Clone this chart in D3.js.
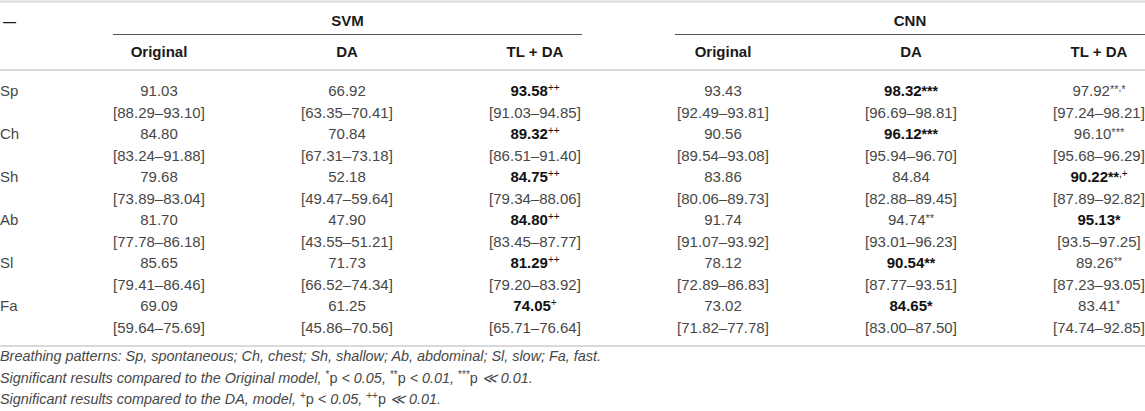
<!DOCTYPE html>
<html>
<head>
<meta charset="utf-8">
<script src="https://cdn.jsdelivr.net/npm/d3@7"></script>
<style>
  body { margin: 0; background: #fff; }
  svg { display: block; font-family: "Liberation Sans", Arial, sans-serif; }
</style>
</head>
<body>
<div id="chart-container"></div>
<script>
// --- data, as printed in the table ---
const rowLabels = ["Sp", "Ch", "Sh", "Ab", "Sl", "Fa"];
const models = ["SVM", "CNN"];
const methods = ["Original", "DA", "TL + DA"];

const svmOrig = [91.03, 84.80, 79.68, 81.70, 85.65, 69.09];
const svmOrigCI = [["88.29", "93.10"], ["83.24", "91.88"], ["73.89", "83.04"], ["77.78", "86.18"], ["79.41", "86.46"], ["59.64", "75.69"]];
const svmOrigMarks = ["", "", "", "", "", ""];
const svmOrigBold = [0, 0, 0, 0, 0, 0];

const svmDA = [66.92, 70.84, 52.18, 47.90, 71.73, 61.25];
const svmDACI = [["63.35", "70.41"], ["67.31", "73.18"], ["49.47", "59.64"], ["43.55", "51.21"], ["66.52", "74.34"], ["45.86", "70.56"]];
const svmDAMarks = ["", "", "", "", "", ""];
const svmDABold = [0, 0, 0, 0, 0, 0];

const svmTL = [93.58, 89.32, 84.75, 84.80, 81.29, 74.05];
const svmTLCI = [["91.03", "94.85"], ["86.51", "91.40"], ["79.34", "88.06"], ["83.45", "87.77"], ["79.20", "83.92"], ["65.71", "76.64"]];
const svmTLMarks = ["++", "++", "++", "++", "++", "+"];
const svmTLBold = [1, 1, 1, 1, 1, 1];

const cnnOrig = [93.43, 90.56, 83.86, 91.74, 78.12, 73.02];
const cnnOrigCI = [["92.49", "93.81"], ["89.54", "93.08"], ["80.06", "89.73"], ["91.07", "93.92"], ["72.89", "86.83"], ["71.82", "77.78"]];
const cnnOrigMarks = ["", "", "", "", "", ""];
const cnnOrigBold = [0, 0, 0, 0, 0, 0];

const cnnDA = [98.32, 96.12, 84.84, 94.74, 90.54, 84.65];
const cnnDACI = [["96.69", "98.81"], ["95.94", "96.70"], ["82.88", "89.45"], ["93.01", "96.23"], ["87.77", "93.51"], ["83.00", "87.50"]];
const cnnDAMarks = ["***", "***", "", "**", "**", "*"];
const cnnDABold = [1, 1, 0, 0, 1, 1];

const cnnTL = [97.92, 96.10, 90.22, 95.13, 89.26, 83.41];
const cnnTLCI = [["97.24", "98.21"], ["95.68", "96.29"], ["87.89", "92.82"], ["93.5", "97.25"], ["87.23", "93.05"], ["74.74", "92.85"]];
const cnnTLMarks = ["**,*", "***", "**,+", "*", "**", "*"];
const cnnTLBold = [0, 0, 1, 1, 0, 0];

const footnotes = [
  [{ t: "Breathing patterns: Sp, spontaneous; Ch, chest; Sh, shallow; Ab, abdominal; Sl, slow; Fa, fast." }],
  [{ t: "Significant results compared to the Original model, " }, { t: "*", sup: true }, { t: "p", up: true },
   { t: " < 0.05, " }, { t: "**", sup: true }, { t: "p", up: true }, { t: " < 0.01, " },
   { t: "***", sup: true }, { t: "p", up: true }, { t: " \u226A 0.01." }],
  [{ t: "Significant results compared to the DA, model, " }, { t: "+", sup: true }, { t: "p", up: true },
   { t: " < 0.05, " }, { t: "++", sup: true }, { t: "p", up: true }, { t: " \u226A 0.01." }]
];

// --- setup ---
const width = 1145;
const height = 411;
const fs = 15;
const textColor = "#474747";
const ruleColor = "#d9d9d9";

const columns = [
  { model: "SVM", method: "Original", mean: svmOrig, ci: svmOrigCI, marks: svmOrigMarks, bold: svmOrigBold },
  { model: "SVM", method: "DA", mean: svmDA, ci: svmDACI, marks: svmDAMarks, bold: svmDABold },
  { model: "SVM", method: "TL + DA", mean: svmTL, ci: svmTLCI, marks: svmTLMarks, bold: svmTLBold },
  { model: "CNN", method: "Original", mean: cnnOrig, ci: cnnOrigCI, marks: cnnOrigMarks, bold: cnnOrigBold },
  { model: "CNN", method: "DA", mean: cnnDA, ci: cnnDACI, marks: cnnDAMarks, bold: cnnDABold },
  { model: "CNN", method: "TL + DA", mean: cnnTL, ci: cnnTLCI, marks: cnnTLMarks, bold: cnnTLBold }
];
columns.forEach((c) => (c.key = c.model + "|" + c.method));

const svg = d3
  .select("#chart-container")
  .append("svg")
  .attr("width", width)
  .attr("height", height);

// column centres and row positions
const x = d3.scalePoint().domain(columns.map((c) => c.key)).range([159, 1099]);
const y = d3.scalePoint().domain(rowLabels).range([91, 306]);
const lineGap = 21.5;
const halfCol = 46;
const fmt = d3.format(".2f");

// horizontal rules
const rules = [1.5, 70, 346];
svg.selectAll("line.rule")
  .data(rules)
  .enter()
  .append("line")
  .attr("class", "rule")
  .attr("x1", 0)
  .attr("x2", width)
  .attr("y1", (d) => d)
  .attr("y2", (d) => d)
  .style("stroke", ruleColor)
  .style("stroke-width", 2);

// model group headers + underline
const groups = models.map((m) => {
  const keys = columns.filter((c) => c.model === m).map((c) => c.key);
  const x1 = x(keys[0]) - halfCol - (m === "CNN" ? 2 : 0);
  const x2 = m === "CNN" ? width : x(keys[keys.length - 1]) + halfCol + 1;
  return { model: m, x1, x2 };
});

svg.selectAll("line.group")
  .data(groups)
  .enter()
  .append("line")
  .attr("class", "group")
  .attr("x1", (d) => d.x1)
  .attr("x2", (d) => d.x2)
  .attr("y1", 34.5)
  .attr("y2", 34.5)
  .style("stroke", "#555")
  .style("stroke-width", 1);

svg.selectAll("text.group")
  .data(groups)
  .enter()
  .append("text")
  .attr("class", "group")
  .attr("x", (d) => (d.x1 + d.x2) / 2)
  .attr("y", 21)
  .attr("dy", "0.35em")
  .attr("text-anchor", "middle")
  .style("font-size", fs + "px")
  .style("font-weight", "bold")
  .style("fill", "#1a1a1a")
  .text((d) => d.model);

svg.append("text")
  .attr("x", 3)
  .attr("y", 21)
  .attr("dy", "0.35em")
  .style("font-size", "13px")
  .style("font-weight", "bold")
  .style("fill", "#1a1a1a")
  .text("\u2014");

// method headers
svg.selectAll("text.method")
  .data(columns)
  .enter()
  .append("text")
  .attr("class", "method")
  .attr("x", (d) => x(d.key))
  .attr("y", 52)
  .attr("dy", "0.35em")
  .attr("text-anchor", "middle")
  .style("font-size", fs + "px")
  .style("font-weight", "bold")
  .style("fill", "#1a1a1a")
  .text((d) => d.method);

// row labels
svg.selectAll("text.row")
  .data(rowLabels)
  .enter()
  .append("text")
  .attr("class", "row")
  .attr("x", 0)
  .attr("y", (d) => y(d))
  .attr("dy", "0.35em")
  .style("font-size", fs + "px")
  .style("fill", textColor)
  .text((d) => d);

// cells
const cells = [];
columns.forEach((c) => {
  rowLabels.forEach((r, i) => {
    cells.push({ key: c.key, row: r, mean: c.mean[i], ci: c.ci[i], marks: c.marks[i], bold: c.bold[i] });
  });
});

const meanText = svg.selectAll("text.mean")
  .data(cells)
  .enter()
  .append("text")
  .attr("class", "mean")
  .attr("x", (d) => x(d.key))
  .attr("y", (d) => y(d.row))
  .attr("dy", "0.35em")
  .attr("text-anchor", "middle")
  .style("font-size", fs + "px")
  .style("font-weight", (d) => (d.bold ? "bold" : "normal"))
  .style("fill", (d) => (d.bold ? "#111" : textColor));

meanText.each(function (d) {
  const t = d3.select(this);
  t.append("tspan").text(fmt(d.mean));
  let shift = 0;
  for (const ch of d.marks) {
    let size, off;
    if (ch === "*" && d.bold) { size = 14; off = 0; }
    else if (ch === "*") { size = 11; off = -3; }
    else { size = 10; off = -5.5; }
    t.append("tspan")
      .attr("dy", off - shift)
      .style("font-size", size + "px")
      .style("font-weight", ch === "*" && d.bold ? "bold" : "normal")
      .text(ch);
    shift = off;
  }
});

svg.selectAll("text.ci")
  .data(cells)
  .enter()
  .append("text")
  .attr("class", "ci")
  .attr("x", (d) => x(d.key))
  .attr("y", (d) => y(d.row) + lineGap)
  .attr("dy", "0.35em")
  .attr("text-anchor", "middle")
  .style("font-size", fs + "px")
  .style("fill", textColor)
  .text((d) => "[" + d.ci[0] + "\u2013" + d.ci[1] + "]");

// footnotes
const noteY = d3.scaleLinear().domain([0, 2]).range([361, 404]);
footnotes.forEach((parts, i) => {
  const t = svg.append("text")
    .attr("x", 0)
    .attr("y", noteY(i))
    .attr("dy", "0.35em")
    .style("font-size", "14.4px")
    .style("font-style", "italic")
    .style("fill", textColor);
  let shift = 0;
  parts.forEach((p) => {
    const off = p.sup ? -5 : 0;
    t.append("tspan")
      .attr("dy", off - shift)
      .style("font-size", p.sup ? "10px" : null)
      .style("font-style", p.sup || p.up ? "normal" : "italic")
      .text(p.t);
    shift = off;
  });
});
</script>
</body>
</html>
